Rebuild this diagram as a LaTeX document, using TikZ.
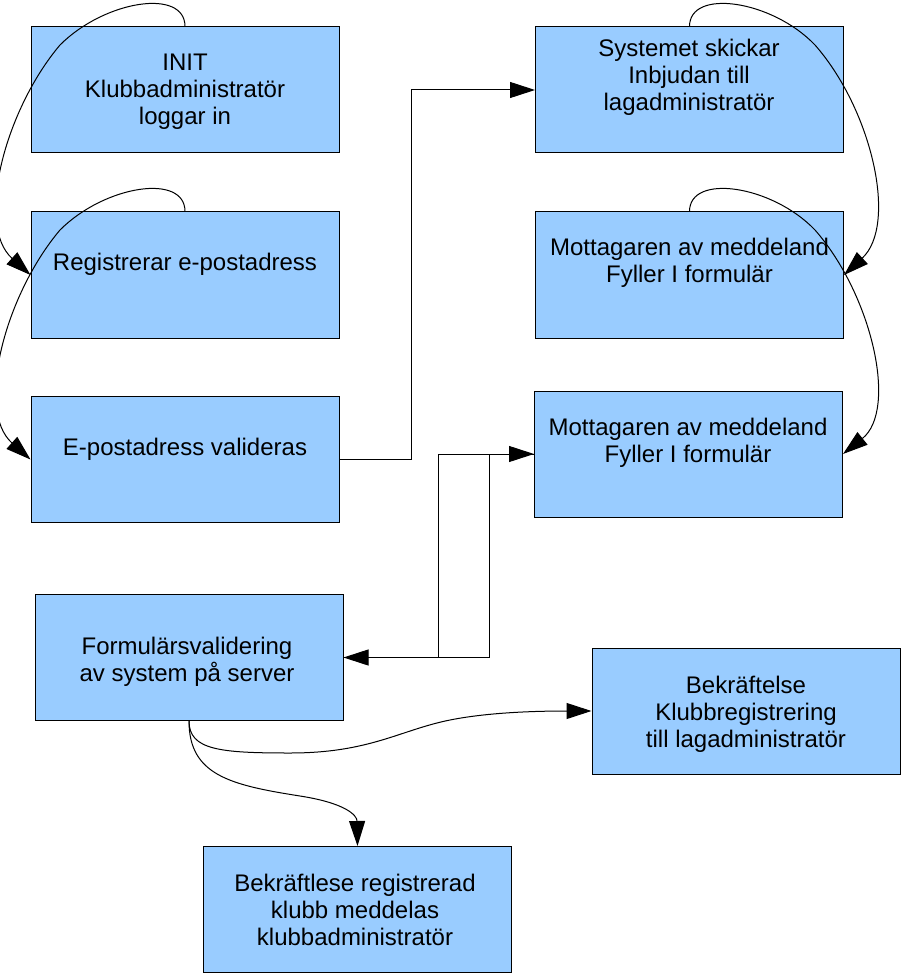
\documentclass[tikz,border=0pt]{standalone}
\usepackage{fontspec}
\setmainfont{Liberation Sans}
\usetikzlibrary{arrows.meta}
\definecolor{boxblue}{HTML}{99CCFF}
\begin{document}
\begin{tikzpicture}[x=1pt,y=-1pt,
  box/.style={draw=black,line width=1pt,fill=boxblue,minimum width=308pt,minimum height=126pt,inner sep=0pt},
  txt/.style={align=center,font=\fontsize{24}{27}\selectfont,anchor=base,inner sep=0pt},
  conn/.style={line width=1pt,-{Triangle[length=25pt,width=16pt]}}]
\useasboundingbox (0,0) rectangle (901,973);
% boxes
\node[box] (init) at (185,90) {};
\node[box] (reg) at (185,275) {};
\node[box] (val) at (185,459.5) {};
\node[box] (sys) at (689.5,90) {};
\node[box] (mot1) at (689.5,275) {};
\node[box] (mot2) at (688.5,454) {};
\node[box] (form) at (189,657.5) {};
\node[box] (bek) at (746,711) {};
\node[box] (bot) at (357.5,909.5) {};
% texts (base anchor = baseline of last line)
\node[txt] (tinit) at (185,125) {INIT\\Klubbadministratör\\loggar in};
\node[txt] (treg) at (185,270) {Registrerar e-postadress};
\node[txt] (tval) at (185,455) {E-postadress valideras};
\node[txt] (tsys) at (689,111) {Systemet skickar\\Inbjudan till\\lagadministratör};
\node[txt] (tmot1) at (689.5,283) {Mottagaren av meddeland\\Fyller I formulär};
\node[txt] (tmot2) at (688,462) {Mottagaren av meddeland\\Fyller I formulär};
\node[txt] (tform) at (187,681) {Formulärsvalidering\\av system på server};
\node[txt] (tbek) at (746,747) {Bekräftelse\\Klubbregistrering\\till lagadministratör};
\node[txt] (tbot) at (355,945) {Bekräftlese registrerad\\klubb meddelas\\klubbadministratör};
% connectors
\draw[conn] (init.north) .. controls (185,-12) and (105,0) .. (60,45) .. controls (5,110) and (-25,225) .. (reg.west);
\draw[conn] (reg.north) .. controls (185,173) and (105,185) .. (60,230) .. controls (5,295) and (-25,410) .. (val.west);
\draw[conn] (val.east) -- ++(72,0) |- (sys.west);
\draw[conn] (sys.north) .. controls (689.5,-12) and (772,0) .. (815,45) .. controls (872,110) and (898,225) .. (mot1.east);
\draw[conn] (mot1.north) .. controls (689.5,173) and (772,185) .. (815,230) .. controls (872,295) and (898,410) .. (mot2.east);
\draw[conn] (form.east) -- ++(146,0) |- (mot2.west);
\draw[conn] (mot2.west) -- ++(-96,0) |- (form.east);
\draw[conn] (form.south) .. controls (189,750) and (220,753) .. (290,753) .. controls (370,753) and (400,730) .. (450,720) .. controls (490,712) and (540,711) .. (bek.west);
\draw[conn] (form.south) .. controls (189,775) and (230,785) .. (300,796) .. controls (345,803) and (357,815) .. (bot.north);
\end{tikzpicture}
\end{document}
